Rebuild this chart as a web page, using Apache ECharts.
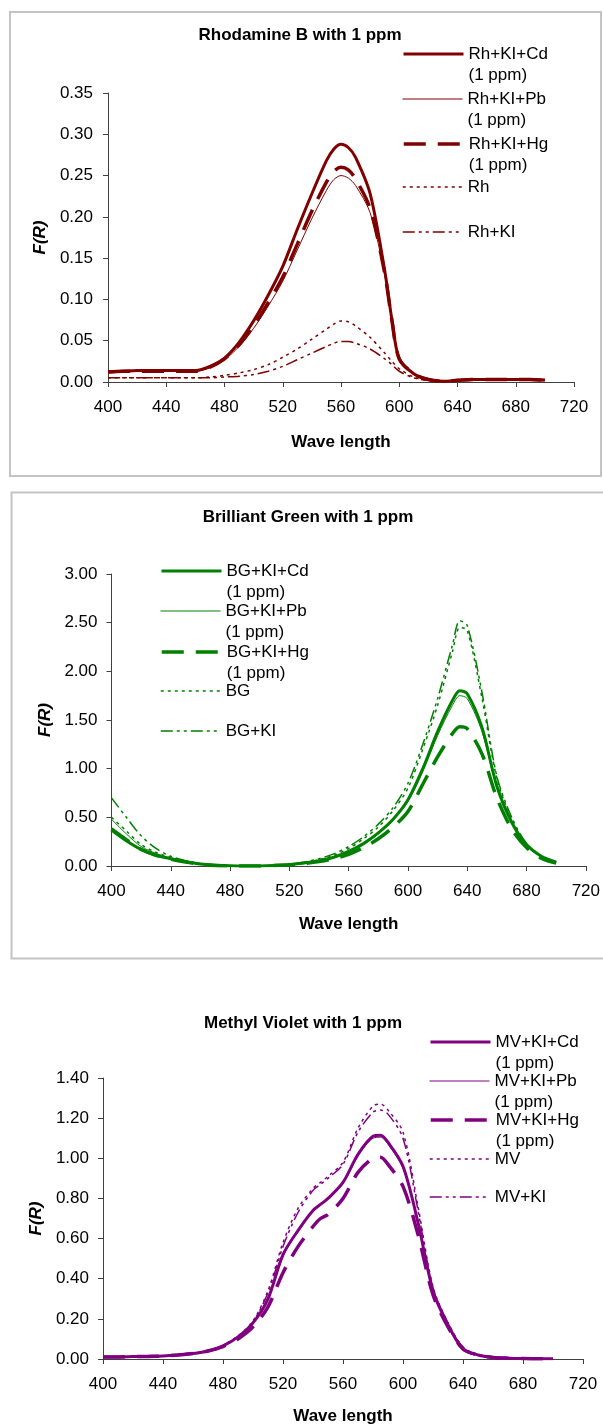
<!DOCTYPE html>
<html>
<head>
<meta charset="utf-8">
<script src="https://cdn.jsdelivr.net/npm/echarts@6/dist/echarts.min.js"></script>
<style>
  html, body { margin: 0; padding: 0; background: #fff; }
  #chart { width: 603px; height: 1426px; }
</style>
</head>
<body>
<div id="chart"></div>
<script>
// Rhodamine B
const rhWave = [400, 410, 420, 430, 440, 450, 460, 470, 480, 490, 500, 510, 520, 530, 540, 550, 555, 560, 565, 570, 580, 590, 595, 600, 610, 620, 630, 640, 650, 660, 670, 680, 690, 700];
const rhCd  = [0.012, 0.013, 0.014, 0.014, 0.014, 0.014, 0.014, 0.019, 0.029, 0.048, 0.074, 0.105, 0.140, 0.185, 0.228, 0.268, 0.282, 0.288, 0.284, 0.272, 0.228, 0.135, 0.075, 0.028, 0.010, 0.003, 0.001, 0.002, 0.003, 0.003, 0.003, 0.003, 0.003, 0.002];
const rhPb  = [0.012, 0.012, 0.013, 0.013, 0.013, 0.013, 0.013, 0.017, 0.027, 0.043, 0.065, 0.092, 0.122, 0.160, 0.198, 0.232, 0.245, 0.250, 0.247, 0.238, 0.205, 0.130, 0.072, 0.027, 0.009, 0.003, 0.001, 0.002, 0.003, 0.003, 0.003, 0.003, 0.002, 0.002];
const rhHg  = [0.012, 0.013, 0.013, 0.013, 0.013, 0.013, 0.013, 0.018, 0.028, 0.045, 0.068, 0.096, 0.127, 0.167, 0.207, 0.242, 0.255, 0.260, 0.257, 0.246, 0.210, 0.132, 0.074, 0.028, 0.010, 0.003, 0.001, 0.002, 0.003, 0.003, 0.003, 0.003, 0.003, 0.002];
const rhDye = [0.005, 0.005, 0.005, 0.005, 0.005, 0.005, 0.005, 0.006, 0.008, 0.011, 0.015, 0.021, 0.030, 0.040, 0.052, 0.064, 0.070, 0.074, 0.073, 0.068, 0.054, 0.035, 0.025, 0.016, 0.006, 0.002, 0.001, 0.002, 0.002, 0.003, 0.003, 0.003, 0.003, 0.003];
const rhKI  = [0.005, 0.005, 0.005, 0.005, 0.005, 0.005, 0.005, 0.005, 0.006, 0.007, 0.009, 0.013, 0.019, 0.027, 0.035, 0.043, 0.047, 0.049, 0.049, 0.047, 0.040, 0.028, 0.021, 0.013, 0.005, 0.002, 0.001, 0.002, 0.002, 0.002, 0.003, 0.003, 0.003, 0.003];
const rhNames = ['Rh+KI+Cd (1 ppm)', 'Rh+KI+Pb (1 ppm)', 'Rh+KI+Hg (1 ppm)', 'Rh', 'Rh+KI'];

// Brilliant Green
const bgWave = [400, 410, 420, 430, 440, 450, 460, 470, 480, 490, 500, 510, 520, 530, 540, 550, 560, 570, 580, 590, 600, 610, 620, 630, 635, 640, 650, 660, 670, 680, 690, 700];
const bgCd  = [0.37, 0.26, 0.17, 0.11, 0.075, 0.045, 0.020, 0.008, 0.002, 0.0, 0.001, 0.006, 0.014, 0.030, 0.055, 0.090, 0.15, 0.23, 0.34, 0.48, 0.68, 1.00, 1.38, 1.70, 1.80, 1.77, 1.42, 0.82, 0.45, 0.22, 0.10, 0.04];
const bgPb  = [0.48, 0.33, 0.20, 0.13, 0.080, 0.045, 0.020, 0.008, 0.002, 0.0, 0.001, 0.005, 0.012, 0.026, 0.050, 0.085, 0.14, 0.22, 0.33, 0.47, 0.66, 0.97, 1.34, 1.65, 1.75, 1.72, 1.38, 0.80, 0.44, 0.21, 0.10, 0.04];
const bgHg  = [0.38, 0.27, 0.17, 0.11, 0.070, 0.040, 0.018, 0.006, 0.001, 0.0, 0.001, 0.005, 0.012, 0.025, 0.045, 0.075, 0.12, 0.19, 0.28, 0.40, 0.56, 0.84, 1.12, 1.36, 1.43, 1.41, 1.15, 0.70, 0.38, 0.19, 0.08, 0.03];
const bgDye = [0.50, 0.36, 0.22, 0.14, 0.090, 0.050, 0.025, 0.010, 0.003, 0.0, 0.001, 0.006, 0.015, 0.035, 0.065, 0.110, 0.18, 0.28, 0.40, 0.57, 0.80, 1.20, 1.65, 2.20, 2.45, 2.42, 1.72, 0.90, 0.48, 0.22, 0.10, 0.04];
const bgKI  = [0.70, 0.50, 0.31, 0.18, 0.100, 0.055, 0.025, 0.010, 0.003, 0.0, 0.001, 0.007, 0.018, 0.040, 0.075, 0.125, 0.20, 0.30, 0.43, 0.60, 0.85, 1.25, 1.72, 2.27, 2.52, 2.47, 1.78, 0.92, 0.50, 0.23, 0.10, 0.04];
const bgNames = ['BG+KI+Cd (1 ppm)', 'BG+KI+Pb (1 ppm)', 'BG+KI+Hg (1 ppm)', 'BG', 'BG+KI'];

// Methyl Violet
const mvWave = [400, 410, 420, 430, 440, 450, 460, 470, 480, 490, 500, 510, 520, 530, 540, 545, 550, 560, 570, 580, 585, 590, 600, 610, 620, 630, 640, 650, 660, 670, 680, 690, 700];
const mvCd  = [0.010, 0.010, 0.012, 0.013, 0.015, 0.020, 0.027, 0.040, 0.065, 0.110, 0.180, 0.30, 0.52, 0.64, 0.74, 0.77, 0.80, 0.88, 1.02, 1.11, 1.115, 1.08, 0.96, 0.68, 0.34, 0.17, 0.05, 0.020, 0.008, 0.004, 0.002, 0.001, 0.001];
const mvPb  = [0.010, 0.010, 0.012, 0.013, 0.015, 0.020, 0.027, 0.040, 0.064, 0.108, 0.178, 0.30, 0.51, 0.64, 0.74, 0.775, 0.80, 0.875, 1.01, 1.10, 1.105, 1.07, 0.95, 0.68, 0.34, 0.17, 0.05, 0.020, 0.008, 0.004, 0.002, 0.001, 0.001];
const mvHg  = [0.010, 0.010, 0.012, 0.013, 0.015, 0.020, 0.027, 0.040, 0.062, 0.100, 0.160, 0.26, 0.43, 0.56, 0.66, 0.70, 0.72, 0.80, 0.93, 1.00, 1.005, 0.97, 0.86, 0.62, 0.32, 0.16, 0.05, 0.020, 0.008, 0.004, 0.002, 0.001, 0.001];
const mvDye = [0.010, 0.010, 0.012, 0.013, 0.015, 0.020, 0.028, 0.042, 0.068, 0.115, 0.190, 0.34, 0.58, 0.75, 0.85, 0.88, 0.91, 0.98, 1.15, 1.26, 1.27, 1.24, 1.13, 0.76, 0.36, 0.18, 0.06, 0.020, 0.008, 0.004, 0.002, 0.001, 0.001];
const mvKI  = [0.010, 0.010, 0.012, 0.013, 0.015, 0.020, 0.028, 0.042, 0.066, 0.112, 0.185, 0.33, 0.56, 0.73, 0.84, 0.87, 0.90, 0.97, 1.13, 1.23, 1.24, 1.22, 1.10, 0.74, 0.35, 0.18, 0.06, 0.020, 0.008, 0.004, 0.002, 0.001, 0.001];
const mvNames = ['MV+KI+Cd (1 ppm)', 'MV+KI+Pb (1 ppm)', 'MV+KI+Hg (1 ppm)', 'MV', 'MV+KI'];

const FONT = 'Liberation Sans, Arial, sans-serif';
const FS = 17;
const LH = 21;

// Cd, Pb, Hg, dye, dye+KI
const lineKinds = [
  { width: 3, type: 'solid' },
  { width: 1, type: 'solid' },
  { width: 3.5, type: [22, 12] },
  { width: 1.5, type: [3, 4] },
  { width: 1.5, type: [12, 4, 3, 4, 3, 4] }
];

const panels = [
  {
    title: 'Rhodamine B with 1 ppm', color: '#800000',
    wave: rhWave, values: [rhCd, rhPb, rhHg, rhDye, rhKI], names: rhNames,
    yMax: 0.35, yStep: 0.05,
    grid: { left: 108, top: 93, width: 466, height: 289 },
    titleX: 300, titleY: 35, legendX: 402, legendY: [54, 99, 144, 187, 232],
    yNameGap: 55, xNameGap: 52, xLabelMargin: 17, yLabelMargin: 15
  },
  {
    title: 'Brilliant Green with 1 ppm', color: '#008000',
    wave: bgWave, values: [bgCd, bgPb, bgHg, bgDye, bgKI], names: bgNames,
    yMax: 3, yStep: 0.5,
    grid: { left: 111.5, top: 574, width: 478.5, height: 292 },
    titleX: 308, titleY: 517, legendX: 160, legendY: [571, 611, 652, 691, 731],
    yNameGap: 58, xNameGap: 50, xLabelMargin: 17, yLabelMargin: 14
  },
  {
    title: 'Methyl Violet with 1 ppm', color: '#800080',
    wave: mvWave, values: [mvCd, mvPb, mvHg, mvDye, mvKI], names: mvNames,
    yMax: 1.4, yStep: 0.2,
    grid: { left: 103, top: 1078, width: 480, height: 284 },
    titleX: 303, titleY: 1023, legendX: 429, legendY: [1042, 1081, 1120, 1159, 1197],
    yNameGap: 56, xNameGap: 49, xLabelMargin: 17, yLabelMargin: 14
  }
];

const axisLine = { show: true, lineStyle: { color: '#404040', width: 1 } };
const axisTick = { show: true, inside: false, length: 5, lineStyle: { color: '#404040', width: 1 } };

const grids = [], xAxes = [], yAxes = [], series = [], legends = [], graphics = [];

// frames around the first two panels
graphics.push({
  type: 'rect', shape: { x: 10, y: 12, width: 591, height: 464 },
  style: { fill: 'none', stroke: '#c4c4c4', lineWidth: 2 }, silent: true
});
graphics.push({
  type: 'rect', shape: { x: 11.5, y: 492.5, width: 640, height: 466 },
  style: { fill: 'none', stroke: '#c4c4c4', lineWidth: 2 }, silent: true
});

panels.forEach((p, pi) => {
  grids.push(Object.assign({ containLabel: false }, p.grid));

  xAxes.push({
    type: 'value', gridIndex: pi, min: 400, max: 720, interval: 40,
    name: 'Wave length', nameLocation: 'middle', nameGap: p.xNameGap,
    nameTextStyle: { fontSize: FS, fontWeight: 'bold', color: '#000', fontFamily: FONT },
    axisLine, axisTick,
    axisLabel: { fontSize: FS, color: '#000', fontFamily: FONT, margin: p.xLabelMargin },
    splitLine: { show: false }
  });

  yAxes.push({
    type: 'value', gridIndex: pi, min: 0, max: p.yMax, interval: p.yStep,
    name: 'F(R)', nameLocation: 'middle', nameGap: p.yNameGap, nameRotate: 90,
    nameTextStyle: { fontSize: FS, fontWeight: 'bold', fontStyle: 'italic', color: '#000', fontFamily: FONT },
    axisLine, axisTick,
    axisLabel: { fontSize: FS, color: '#000', fontFamily: FONT, margin: p.yLabelMargin, formatter: v => v.toFixed(2) },
    splitLine: { show: false }
  });

  graphics.push({
    type: 'text', x: p.titleX, y: p.titleY, silent: true,
    style: {
      text: p.title, textAlign: 'center', textVerticalAlign: 'middle',
      font: 'bold ' + FS + 'px ' + FONT, fill: '#000'
    }
  });

  p.values.forEach((vals, si) => {
    const kind = lineKinds[si];
    const name = p.names[si];
    series.push({
      type: 'line', name, xAxisIndex: pi, yAxisIndex: pi,
      data: p.wave.map((w, i) => [w, vals[i]]),
      symbol: 'none', smooth: 0.3, silent: true, animation: false,
      lineStyle: { color: p.color, width: kind.width, type: kind.type },
      itemStyle: { color: p.color }
    });

    // two-line names: an empty first line keeps the icon level with the name's first line
    const twoLine = name.indexOf('(') > 0;
    legends.push({
      data: [name], orient: 'vertical', selectedMode: false, padding: 0,
      left: p.legendX,
      top: p.legendY[si] - (twoLine ? 1.5 * LH : 0.5 * LH),
      itemWidth: 60, itemHeight: 12,
      formatter: n => (twoLine ? ' \n' + n.replace(' (', '\n(') : n),
      lineStyle: { width: kind.width, type: kind.type, color: p.color },
      itemStyle: { opacity: 0 },
      textStyle: { fontSize: FS, color: '#000', fontFamily: FONT, lineHeight: LH }
    });
  });
});

const chart = echarts.init(document.getElementById('chart'), null, { renderer: 'canvas' });
chart.setOption({
  animation: false,
  backgroundColor: '#fff',
  grid: grids,
  xAxis: xAxes,
  yAxis: yAxes,
  legend: legends,
  graphic: graphics,
  series
});
</script>
</body>
</html>
